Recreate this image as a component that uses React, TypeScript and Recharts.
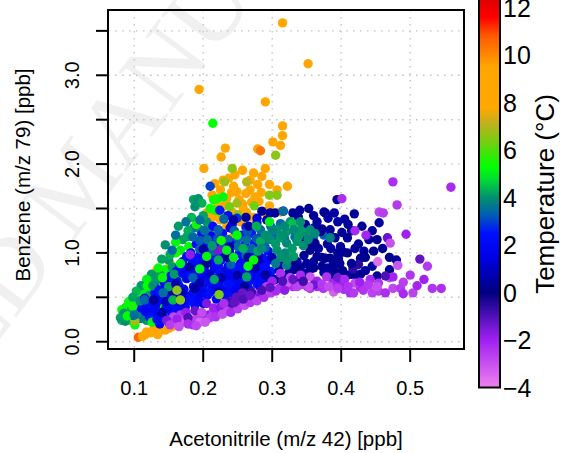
import React from "react";
import { ScatterChart, Scatter, XAxis, YAxis, CartesianGrid, ReferenceArea } from "recharts";

// [acetonitrile ppb, benzene ppb, temperature °C]
const orangePlume: number[][] = [
  [0.315,3.59,8.6],[0.352,3.13,8.5],[0.194,2.84,8.7],[0.290,2.70,8.5],[0.315,2.43,8.6],[0.315,2.32,8.4],
  [0.301,2.25,8.5],[0.312,2.21,8.7],[0.232,2.18,8.5],[0.226,2.08,8.6],[0.279,2.17,8.5],[0.283,2.15,10.3],
  [0.201,1.95,8.6],[0.229,1.82,8.4],[0.237,1.84,8.6],[0.244,1.75,8.5],[0.249,1.69,8.4],[0.273,1.90,8.5],
  [0.285,1.86,8.6],[0.290,1.95,8.5],[0.268,1.71,8.5],[0.275,1.63,8.6],[0.307,1.71,8.5],[0.322,1.75,8.5],
  [0.225,1.71,8.6],[0.234,1.61,8.4],[0.258,1.50,8.6],[0.263,1.45,8.5],[0.205,1.45,8.7],[0.215,1.41,8.5],
  [0.225,1.37,8.4],[0.234,1.30,8.6],[0.246,1.24,8.5],[0.239,1.16,8.5],[0.222,1.18,8.5],[0.254,1.35,8.6],
  [0.287,1.46,8.6],[0.312,1.46,8.5],[0.252,1.60,8.5],[0.262,1.67,8.4],[0.246,1.88,8.5],[0.268,1.82,8.6],
  [0.279,1.77,8.5],[0.257,1.55,8.6],[0.230,1.53,8.4],[0.220,1.57,8.5],[0.270,1.57,8.5],[0.284,1.68,8.5],
  [0.296,1.77,8.6],[0.257,1.93,8.5],[0.217,1.78,8.5],[0.241,1.68,8.7],[0.281,1.58,8.4],[0.296,1.53,8.5],
  [0.213,1.65,8.6],[0.243,1.45,8.5],[0.273,1.40,8.6],[0.218,1.26,8.5],[0.209,1.33,8.4],
];

const orangeLow: number[][] = [
  [0.106,0.05,10.6],[0.116,0.08,8.5],[0.123,0.10,8.6],[0.130,0.11,8.5],[0.138,0.13,8.4],[0.145,0.13,8.5],
  [0.150,0.15,8.6],[0.092,0.32,8.5],[0.112,0.06,8.5],[0.134,0.08,8.5],[0.113,0.30,8.6],[0.118,0.11,8.5],
  [0.152,0.88,8.5],[0.133,0.81,8.6],[0.155,0.17,8.5],[0.160,0.60,8.5],[0.128,0.14,8.5],
];

const greenEdge: number[][] = [
  [0.186,1.60,4.2],[0.193,1.61,4.0],[0.198,1.56,4.3],[0.215,1.60,5.3],[0.220,1.61,5.5],[0.229,1.63,5.2],
  [0.217,1.48,5.4],[0.164,1.30,4.1],[0.145,1.09,4.0],[0.167,1.03,5.0],[0.179,1.07,5.3],[0.150,0.92,4.1],
  [0.157,0.84,5.2],[0.145,0.81,5.4],[0.133,0.69,3.9],[0.126,0.69,4.2],[0.113,0.58,3.8],[0.104,0.51,5.3],
  [0.113,0.43,5.5],[0.106,0.36,5.2],[0.094,0.43,4.0],[0.087,0.38,4.1],[0.085,0.24,4.0],[0.094,0.24,5.2],
  [0.106,0.28,5.4],[0.101,0.19,5.3],[0.118,0.24,4.1],[0.138,0.39,5.3],[0.186,1.28,3.6],[0.196,1.26,3.8],
  [0.205,1.35,4.0],[0.208,1.28,4.2],[0.188,1.52,4.0],[0.082,0.24,4.4],[0.087,0.23,4.0],[0.082,0.36,5.4],
  [0.092,0.45,5.3],[0.101,0.28,3.9],[0.109,0.26,3.7],[0.111,0.55,5.2],[0.118,0.51,5.4],[0.121,0.58,5.1],
  [0.130,0.73,4.1],[0.138,0.75,4.2],[0.155,0.84,4.1],[0.170,0.72,5.3],[0.178,0.95,5.4],[0.192,1.10,5.0],
  [0.200,1.18,5.3],[0.176,1.18,4.2],[0.160,1.00,5.5],[0.142,0.62,5.2],[0.124,0.42,5.3],[0.214,2.46,5.3],
  [0.242,1.95,6.6],[0.305,2.10,6.6],[0.263,1.80,7.0],[0.249,1.56,6.8],[0.307,1.65,6.5],[0.296,1.65,6.5],
  [0.274,1.53,6.3],[0.231,1.80,6.7],[0.101,0.23,6.8],
];

const greenEdgeExtra: number[][] = [
  [0.178,1.25,4.3],[0.190,1.32,5.5],[0.200,1.42,4.2],[0.210,1.50,5.4],[0.183,1.40,4.4],[0.170,1.15,4.2],
  [0.160,1.12,5.2],[0.152,0.98,4.3],[0.140,0.93,4.2],[0.135,0.83,5.2],[0.125,0.76,4.1],[0.118,0.70,5.1],
  [0.110,0.63,4.1],[0.103,0.57,4.4],[0.098,0.50,4.2],[0.090,0.40,5.2],[0.085,0.32,4.0],[0.080,0.27,4.1],
  [0.226,1.45,6.5],[0.238,1.52,6.3],[0.250,1.43,6.6],
];

const blueCore: number[][] = [
  [0.128,0.31,2.0],[0.141,0.29,1.8],[0.155,0.32,2.2],[0.168,0.30,1.9],[0.120,0.34,2.1],
  [0.118,0.40,2.2],[0.131,0.41,1.9],[0.146,0.38,2.4],[0.160,0.42,2.0],[0.174,0.39,1.7],[0.188,0.41,2.1],
  [0.200,0.43,1.8],[0.125,0.47,2.3],
  [0.136,0.50,2.0],[0.150,0.52,1.8],[0.164,0.49,2.2],[0.178,0.51,2.0],[0.192,0.50,1.6],[0.206,0.52,2.3],
  [0.219,0.48,1.9],[0.232,0.51,2.1],[0.244,0.54,2.4],
  [0.131,0.60,2.1],[0.145,0.58,1.9],[0.158,0.61,2.3],[0.172,0.59,1.8],[0.186,0.62,2.0],[0.199,0.60,2.2],
  [0.213,0.61,1.7],[0.227,0.59,2.1],[0.240,0.62,2.4],[0.254,0.60,2.0],[0.268,0.58,1.9],
  [0.149,0.70,2.2],[0.162,0.68,2.0],[0.176,0.71,1.7],[0.190,0.69,2.3],[0.204,0.72,1.9],[0.218,0.70,2.1],
  [0.232,0.69,2.5],[0.246,0.71,1.8],[0.259,0.68,2.2],[0.273,0.70,2.0],[0.287,0.69,2.4],[0.300,0.71,2.1],
  [0.161,0.79,2.1],[0.174,0.81,2.4],[0.188,0.78,1.9],[0.202,0.80,2.2],[0.216,0.82,2.0],[0.230,0.79,1.8],
  [0.244,0.81,2.3],[0.257,0.78,2.1],[0.271,0.80,1.9],[0.285,0.82,2.2],[0.298,0.79,2.6],
  [0.170,0.90,2.0],[0.184,0.88,2.3],[0.198,0.91,1.8],[0.212,0.89,2.1],[0.226,0.92,2.4],[0.240,0.90,2.0],
  [0.254,0.88,1.7],[0.268,0.91,2.2],[0.282,0.89,2.6],[0.296,0.92,2.3],
  [0.182,1.00,2.2],[0.196,0.98,1.9],[0.210,1.01,2.3],[0.224,0.99,2.0],[0.238,1.02,1.8],[0.252,0.99,2.4],
  [0.266,1.01,2.1],[0.280,0.98,2.5],[0.294,1.02,2.2],
  [0.190,1.10,2.1],[0.204,1.08,2.4],[0.218,1.11,1.9],[0.232,1.09,2.2],[0.246,1.12,2.0],[0.260,1.09,2.6],
  [0.274,1.11,2.3],[0.288,1.10,2.0],
  [0.198,1.21,2.3],[0.212,1.19,2.0],[0.228,1.22,2.5],[0.256,1.20,2.2],[0.270,1.22,2.6],[0.284,1.19,2.4],
  [0.214,1.30,2.4],[0.242,1.32,2.2],[0.262,1.29,2.6],[0.278,1.34,2.5],
  [0.224,1.48,2.6],[0.236,1.42,2.3],[0.249,1.39,2.8],[0.210,1.75,3.0],[0.278,1.39,1.3],[0.239,1.28,1.4],
];

const blueFill: number[][] = [
  [0.098,0.30,2.0],[0.105,0.33,4.0],[0.110,0.38,2.2],[0.116,0.34,1.8],[0.122,0.28,2.4],[0.126,0.22,5.2],
  [0.133,0.25,2.1],[0.137,0.20,1.9],[0.143,0.27,2.3],[0.150,0.22,2.0],[0.152,0.35,1.7],[0.160,0.36,2.2],
  [0.140,0.33,0.5],[0.130,0.37,2.0],[0.122,0.52,4.1],[0.130,0.55,2.3],[0.138,0.47,1.9],[0.143,0.53,2.2],
  [0.152,0.44,2.4],[0.156,0.55,0.6],[0.165,0.39,2.0],[0.170,0.45,1.8],[0.182,0.46,2.3],[0.195,0.46,2.0],
  [0.185,0.55,2.2],[0.198,0.55,1.9],[0.210,0.56,2.4],[0.096,0.36,4.2],[0.090,0.29,5.3],[0.098,0.40,5.5],
  [0.108,0.46,4.0],[0.115,0.49,2.1],[0.119,0.63,5.3],[0.127,0.63,4.0],[0.136,0.58,2.5],[0.144,0.66,2.1],
  [0.150,0.62,4.2],[0.153,0.74,2.3],[0.141,0.72,5.4],[0.158,0.76,4.1],[0.165,0.63,2.2],[0.170,0.77,2.0],
  [0.208,0.66,2.1],[0.222,0.65,1.9],[0.236,0.66,2.3],[0.250,0.65,2.0],[0.264,0.64,2.2],[0.278,0.65,2.4],
  [0.182,0.74,2.2],[0.196,0.75,2.0],[0.224,0.76,2.3],[0.238,0.75,1.8],[0.252,0.76,2.4],[0.266,0.75,2.1],
  [0.280,0.74,2.0],[0.294,0.76,1.9],[0.166,0.85,2.3],[0.194,0.85,2.0],[0.222,0.86,2.2],[0.236,0.85,1.9],
  [0.250,0.84,2.5],[0.262,0.86,2.2],[0.276,0.87,2.0],[0.290,0.85,2.3],[0.176,0.96,2.2],[0.190,0.94,2.4],
  [0.204,0.95,2.0],[0.218,0.96,2.2],[0.232,0.97,1.8],[0.258,0.95,2.1],[0.272,0.96,2.4],[0.286,0.94,2.0],
  [0.256,0.56,2.3],[0.233,0.56,2.0],[0.247,0.58,1.7],[0.282,0.62,2.2],[0.293,0.66,2.0],
];

const steelBlue: number[][] = [
  [0.185,1.18,3.4],[0.195,1.14,3.3],[0.206,1.15,3.5],[0.221,1.16,3.2],[0.236,1.15,3.4],[0.250,1.16,3.3],
  [0.263,1.15,3.5],[0.277,1.16,3.2],[0.291,1.15,3.4],[0.303,1.17,3.3],[0.318,1.16,3.5],[0.333,1.18,3.4],
  [0.345,1.20,3.3],[0.360,1.18,3.5],[0.375,1.20,3.3],[0.202,1.25,3.5],[0.222,1.26,3.3],[0.245,1.25,3.4],
  [0.264,1.24,3.2],[0.283,1.26,3.5],[0.298,1.30,3.3],[0.312,1.33,3.4],[0.228,1.05,3.3],[0.250,1.07,3.5],
  [0.270,1.05,3.4],[0.290,1.06,3.3],[0.262,0.97,3.5],[0.240,0.87,3.3],[0.215,1.02,3.4],[0.195,1.04,3.3],
  [0.230,1.38,3.4],[0.195,1.37,3.5],[0.175,1.35,3.6],[0.160,1.20,3.5],[0.155,1.03,3.4],[0.185,0.72,3.3],
  [0.142,0.55,3.5],[0.115,0.47,3.4],[0.100,0.30,3.5],
];

const navyPoints: number[][] = [
  [0.180,0.84,0.6],[0.205,0.88,0.4],[0.250,0.75,0.5],[0.222,0.56,0.8],[0.170,0.55,0.9],[0.235,0.95,0.3],
  [0.195,0.66,0.7],[0.265,0.95,0.5],[0.210,0.76,1.0],[0.146,0.45,0.9],[0.128,0.47,0.4],[0.160,0.65,0.6],
  [0.275,0.83,0.6],[0.290,0.75,0.4],[0.238,1.07,0.7],[0.244,1.37,0.5],[0.266,1.30,0.3],[0.292,1.37,0.5],
  [0.297,1.45,0.6],[0.304,1.45,0.4],[0.316,1.47,0.5],[0.353,1.50,0.3],[0.377,1.45,0.4],[0.360,1.28,0.5],
  [0.370,1.24,0.4],[0.394,1.60,0.2],[0.375,1.46,0.3],[0.381,1.39,0.5],[0.419,1.44,0.4],[0.410,1.32,0.3],
  [0.455,1.34,0.5],[0.452,1.15,0.2],[0.480,0.92,0.4],[0.470,0.81,0.3],[0.447,1.02,0.2],[0.433,1.02,0.4],
  [0.428,0.94,0.3],[0.425,0.87,-0.5],[0.452,0.74,0.3],[0.387,0.72,0.4],[0.387,0.77,0.2],[0.409,0.75,0.3],
  [0.415,0.76,0.4],[0.422,0.75,0.3],[0.428,0.76,0.2],[0.417,0.82,-0.6],[0.360,0.83,0.3],[0.372,0.85,0.2],
  [0.381,0.83,0.5],[0.389,0.87,0.3],[0.355,1.03,0.2],[0.367,1.05,0.4],[0.372,0.95,0.3],[0.384,0.94,0.2],
  [0.396,0.94,0.4],[0.403,1.01,0.3],[0.409,1.00,0.2],[0.391,1.17,0.3],[0.399,1.07,0.4],[0.409,1.17,0.3],
  [0.372,1.27,0.2],[0.384,1.26,0.4],[0.401,1.23,0.3],[0.341,1.17,0.4],[0.346,1.10,0.3],[0.355,1.07,0.2],
  [0.362,1.11,0.3],[0.380,1.10,0.4],[0.365,0.96,0.3],[0.377,0.94,0.2],[0.331,0.81,0.3],[0.341,0.84,0.4],
  [0.355,0.82,0.2],[0.312,0.89,0.5],[0.336,0.90,0.4],[0.346,0.97,0.3],[0.345,1.25,0.4],[0.338,1.40,0.5],
  [0.330,1.45,0.3],[0.365,1.35,0.4],[0.348,1.32,0.3],[0.395,1.35,0.5],[0.415,1.25,0.3],[0.425,1.10,0.4],
  [0.440,1.15,0.3],[0.435,0.95,0.2],[0.445,0.85,0.4],[0.398,0.88,0.3],[0.402,0.80,0.2],[0.300,0.95,0.8],
  [0.310,0.80,0.6],[0.320,0.75,0.5],[0.325,0.65,0.3],[0.340,0.70,0.2],[0.350,0.77,0.4],[0.305,0.70,0.3],
];

const navyExtra: number[][] = [
  [0.200,1.04,0.5],[0.226,0.72,0.6],[0.188,0.60,0.4],[0.260,0.62,0.3],[0.280,0.92,0.5],[0.262,1.40,0.4],
  [0.285,1.47,0.3],[0.340,1.48,0.4],[0.360,1.42,0.3],[0.390,1.45,0.5],[0.405,1.38,0.4],[0.430,1.30,0.3],
  [0.445,1.25,0.4],[0.460,1.05,0.3],[0.470,0.95,0.2],[0.435,0.80,0.4],[0.415,0.88,0.3],[0.360,0.90,0.4],
  [0.350,0.88,0.5],[0.330,0.88,0.3],[0.325,0.78,0.4],[0.340,0.80,0.2],[0.390,0.80,0.3],[0.375,0.78,0.4],
  [0.395,1.00,0.3],[0.420,1.05,0.4],[0.385,1.05,0.5],
];

const purplePoints: number[][] = [
  [0.475,1.80,-2.3],[0.559,1.74,-2.2],[0.481,1.54,-2.5],[0.455,1.46,-2.8],[0.461,1.45,-2.6],[0.494,1.21,-2.0],
  [0.401,1.61,-2.3],[0.420,1.25,-2.2],[0.436,1.20,-2.1],[0.467,1.17,-1.3],[0.471,1.11,-3.0],[0.514,0.93,-1.2],
  [0.482,0.86,-3.1],[0.453,0.90,-3.6],[0.470,0.72,-2.9],[0.442,0.70,-2.2],[0.454,0.66,-2.4],[0.428,0.61,-2.1],
  [0.454,0.57,-2.6],[0.464,0.55,-2.3],[0.475,0.60,-2.8],[0.486,0.60,-2.5],[0.490,0.54,-2.2],[0.504,0.55,-2.7],
  [0.510,0.63,-2.1],[0.532,0.60,-2.4],[0.413,0.55,-2.2],[0.418,0.55,-2.5],[0.404,0.59,-2.3],[0.399,0.64,-2.0],
  [0.389,0.56,-3.3],[0.475,0.73,-2.1],[0.374,0.60,-2.4],[0.365,0.62,-2.2],[0.355,0.60,-2.5],[0.351,0.62,-2.1],
  [0.341,0.64,-2.6],[0.330,0.62,-2.3],[0.464,0.74,-1.0],[0.312,0.77,-2.3],[0.326,0.72,-2.8],[0.341,0.75,-2.2],
  [0.355,0.73,-3.1],[0.365,0.68,-2.0],[0.379,0.73,-2.4],[0.360,0.64,-1.4],[0.321,0.66,-3.2],[0.336,0.62,-2.7],
  [0.353,0.62,-3.0],[0.388,0.66,-2.2],[0.420,0.66,-2.8],[0.437,0.63,-3.0],[0.525,0.85,-2.5],[0.545,0.60,-2.3],
  [0.500,0.75,-2.4],[0.520,0.70,-2.0],[0.490,0.67,-2.6],[0.432,0.58,-2.4],[0.445,0.55,-2.7],[0.395,0.72,-1.5],
  [0.405,0.70,-2.2],[0.300,0.68,-2.0],[0.292,0.62,-2.6],[0.310,0.60,-2.2],[0.283,0.55,-2.4],[0.275,0.52,-2.1],
  [0.318,0.58,-1.8],
  [0.157,0.28,-2.8],[0.167,0.30,-2.5],[0.181,0.24,-3.0],[0.191,0.28,-2.7],[0.200,0.26,-2.2],[0.208,0.30,-1.8],
  [0.215,0.33,-2.5],[0.222,0.36,-2.0],[0.232,0.38,-1.5],[0.244,0.38,-1.0],[0.254,0.43,-1.8],[0.263,0.47,-2.2],
  [0.273,0.49,-2.0],[0.283,0.51,-1.5],[0.175,0.33,-1.9],[0.188,0.35,-1.3],[0.198,0.33,-2.9],[0.205,0.43,-1.6],
  [0.215,0.38,-2.0],[0.225,0.39,-1.7],[0.170,0.22,-3.2],[0.185,0.19,-2.4],[0.238,0.45,-0.8],[0.248,0.50,-1.2],
  [0.162,0.25,-2.0],[0.178,0.27,-1.0],[0.195,0.22,-3.4],[0.210,0.27,-2.6],[0.230,0.43,-2.3],[0.257,0.55,-1.3],
  [0.270,0.56,-0.8],[0.235,0.34,-2.8],[0.147,0.24,-1.6],[0.181,0.98,-1.8],[0.222,1.03,-1.5],
];

const purpleExtra: number[][] = [
  [0.152,0.19,-2.6],[0.165,0.17,-3.0],[0.178,0.20,-2.3],[0.190,0.18,-2.8],[0.203,0.22,-3.1],[0.218,0.28,-2.4],
  [0.228,0.31,-2.9],[0.240,0.33,-2.2],[0.250,0.37,-2.6],[0.260,0.41,-2.9],[0.268,0.44,-2.4],[0.278,0.46,-2.7],
  [0.288,0.50,-2.3],[0.298,0.55,-2.6],[0.305,0.57,-2.2],[0.245,0.44,-1.2],[0.258,0.48,-1.0],[0.268,0.52,-1.4],
  [0.285,0.58,-0.9],[0.297,0.61,-1.2],[0.315,0.68,-1.0],[0.330,0.70,-1.3],[0.345,0.68,-0.8],[0.372,0.65,-2.5],
  [0.382,0.62,-2.9],[0.395,0.60,-2.6],[0.410,0.62,-2.4],[0.427,0.67,-2.0],[0.440,0.64,-2.5],[0.452,0.62,-3.0],
];

const greenInner: number[][] = [
  [0.205,0.96,5.2],[0.222,0.92,4.3],[0.234,1.03,5.1],[0.263,0.73,4.2],[0.273,0.92,5.4],[0.249,1.20,5.3],
  [0.283,1.13,4.3],[0.167,0.88,5.1],[0.213,1.08,4.1],[0.226,1.14,5.5],[0.156,0.47,4.4],[0.195,0.82,5.2],
  [0.216,0.70,4.2],[0.244,0.95,5.0],[0.258,1.05,4.3],[0.265,0.85,5.3],[0.279,1.02,4.2],[0.296,1.35,5.1],
  [0.277,1.30,4.3],[0.167,0.47,6.5],[0.162,0.58,6.6],[0.223,0.53,6.4],[0.128,0.47,0.4],
];

const tealRight: number[][] = [
  [0.316,1.47,3.5],[0.326,1.35,4.1],[0.330,1.33,4.5],[0.355,1.26,3.9],[0.348,1.23,4.0],[0.341,1.26,4.1],
  [0.384,1.17,3.8],[0.341,1.35,4.0],[0.307,1.26,4.0],[0.321,1.24,4.1],[0.331,1.26,3.9],[0.297,1.15,4.0],
  [0.312,1.17,4.1],[0.321,1.11,3.9],[0.336,1.13,4.0],[0.307,1.03,4.0],[0.319,1.00,3.9],[0.331,0.96,4.1],
  [0.321,0.86,3.8],[0.316,1.20,4.0],[0.322,0.92,4.0],[0.329,1.05,4.1],[0.318,1.30,3.9],[0.300,1.25,3.8],
  [0.290,1.20,4.0],[0.305,1.10,4.1],[0.285,1.05,3.9],[0.313,0.95,4.0],[0.305,0.88,3.7],[0.345,1.08,4.0],
  [0.338,1.18,4.1],[0.352,1.15,3.9],[0.362,1.22,3.9],
];

const xTicks = [0.1, 0.2, 0.3, 0.4, 0.5];
const yTicks = [0, 0.5, 1, 1.5, 2, 2.5, 3, 3.5];
const colorbarTicks = [-4, -2, 0, 2, 4, 6, 8, 10, 12];

const X_DOMAIN: [number, number] = [0.062, 0.578];
const Y_DOMAIN: [number, number] = [-0.082, 3.735];

const colorStops: [number, string][] = [
  [-4, "#ee82ee"], [-2, "#a020f0"], [0, "#000080"], [1.5, "#0000e6"], [2.5, "#0010ff"],
  [3.3, "#0060b0"], [4.0, "#009070"], [4.8, "#00e030"], [5.3, "#00ff00"], [6.3, "#70d010"],
  [7.1, "#c0b020"], [7.8, "#ffa800"], [9.5, "#ffa500"], [10.8, "#ff5a00"], [11.6, "#ff0000"], [12.4, "#dd0000"],
];

function hexToRgb(h: string) {
  return [parseInt(h.slice(1, 3), 16), parseInt(h.slice(3, 5), 16), parseInt(h.slice(5, 7), 16)];
}
function tempColor(t: number): string {
  if (t <= colorStops[0][0]) return colorStops[0][1];
  for (let i = 1; i < colorStops.length; i++) {
    if (t <= colorStops[i][0]) {
      const [t0, c0] = colorStops[i - 1];
      const [t1, c1] = colorStops[i];
      const f = (t - t0) / (t1 - t0);
      const a = hexToRgb(c0), b = hexToRgb(c1);
      const m = a.map((v, k) => Math.round(v + (b[k] - v) * f));
      return `rgb(${m[0]},${m[1]},${m[2]})`;
    }
  }
  return colorStops[colorStops.length - 1][1];
}

const toPoints = (arr: number[][]) => arr.map(([x, y, t]) => ({ x, y, t }));
const groups = [
  orangePlume, orangeLow, greenEdge, greenEdgeExtra, blueCore, blueFill, steelBlue,
  navyPoints, navyExtra, purplePoints, purpleExtra, greenInner, tealRight,
];

const FONT = "'Liberation Sans', Arial, Helvetica, sans-serif";

const Dot = (props: any) => {
  const { cx, cy, payload } = props;
  if (cx == null || cy == null) return null;
  return <circle cx={cx} cy={cy} r={4.7} fill={tempColor(payload.t)} />;
};

const YTick = (props: any) => {
  const { y, payload } = props;
  const v = payload.value;
  if (Math.abs(v - Math.round(v)) > 1e-6) return null;
  const cx = 72.5;
  return (
    <text x={cx} y={y} transform={`rotate(-90, ${cx}, ${y})`} textAnchor="middle" dominantBaseline="central"
      fontSize={20} fontFamily={FONT} fill="#000">
      {v.toFixed(1)}
    </text>
  );
};

const XTick = (props: any) => {
  const { x, payload } = props;
  return (
    <text x={x} y={388} textAnchor="middle" dominantBaseline="central" fontSize={20} fontFamily={FONT} fill="#000">
      {String(payload.value)}
    </text>
  );
};

// colour bar geometry
const CB_X = 479, CB_W = 21, CB_BOTTOM = 387.5, CB_PX_PER_DEG = 23.75, CB_MIN = -4, CB_TOP_T = 12.42;
const cbY = (t: number) => CB_BOTTOM - (t - CB_MIN) * CB_PX_PER_DEG;

export default function App() {
  const gradId = "tempGrad";
  return (
    <div style={{ position: "absolute", left: 0, top: 0, width: 561, height: 453, background: "#fff" }}>
      <svg width={561} height={453} style={{ position: "absolute", left: 0, top: 0 }}>
        <g fontFamily="'Liberation Serif', 'Times New Roman', serif" fontSize={100} fill="#f0f0f0">
          <text x={58} y={262} transform="rotate(-53, 58, 262)" textAnchor="end">ACCEPTED</text>
          <text x={72} y={243} transform="rotate(-53, 72, 243)" textAnchor="start">MANUSCRIPT</text>
        </g>
      </svg>
      <div style={{ position: "absolute", left: 0, top: 0 }}>
        <ScatterChart width={561} height={453} margin={{ top: 10, right: 97, bottom: 0, left: 0 }}>
          <CartesianGrid stroke="#c4c4c4" strokeDasharray="1.6 5.4" strokeWidth={1.4} />
          <XAxis type="number" dataKey="x" domain={X_DOMAIN} ticks={xTicks} allowDataOverflow
            height={104} axisLine={false} tickSize={13} tickLine={{ stroke: "#000", strokeWidth: 2 }}
            tick={<XTick />} interval={0} />
          <YAxis type="number" dataKey="y" domain={Y_DOMAIN} ticks={yTicks} allowDataOverflow
            width={108} axisLine={false} tickSize={12} tickLine={{ stroke: "#000", strokeWidth: 2 }}
            tick={<YTick />} interval={0} />
          {groups.map((g, i) => (
            <Scatter key={i} data={toPoints(g)} shape={<Dot />} isAnimationActive={false} />
          ))}
          <ReferenceArea x1={X_DOMAIN[0]} x2={X_DOMAIN[1]} y1={Y_DOMAIN[0]} y2={Y_DOMAIN[1]}
            fill="none" fillOpacity={0} stroke="#000" strokeWidth={2} ifOverflow="visible" />
        </ScatterChart>
      </div>
      <svg width={561} height={453} style={{ position: "absolute", left: 0, top: 0, pointerEvents: "none" }}>
        <defs>
          <linearGradient id={gradId} x1="0" y1="1" x2="0" y2="0">
            {colorStops.map(([t, c], i) => (
              <stop key={i} offset={`${((t - CB_MIN) / (CB_TOP_T - CB_MIN)) * 100}%`} stopColor={c} />
            ))}
          </linearGradient>
        </defs>
        <rect x={CB_X} y={cbY(CB_TOP_T)} width={CB_W} height={CB_BOTTOM - cbY(CB_TOP_T)}
          fill={`url(#${gradId})`} stroke="#000" strokeWidth={2} />
        {colorbarTicks.map((t) => (
          <text key={t} x={503} y={cbY(t)} dominantBaseline="central" fontSize={25} fontFamily={FONT} fill="#000">
            {t < 0 ? `\u2212${Math.abs(t)}` : String(t)}
          </text>
        ))}
        <text x={545} y={194} transform="rotate(-90, 545, 194)" textAnchor="middle" dominantBaseline="central"
          fontSize={26} fontFamily={FONT} fill="#000">Temperature (°C)</text>
        <text x={286} y={438} textAnchor="middle" dominantBaseline="central" fontSize={20.5} fontFamily={FONT} fill="#000">
          Acetonitrile (m/z 42) [ppb]
        </text>
        <text x={22} y={175} transform="rotate(-90, 22, 175)" textAnchor="middle" dominantBaseline="central"
          fontSize={20.5} fontFamily={FONT} fill="#000">Benzene (m/z 79) [ppb]</text>
      </svg>
    </div>
  );
}
